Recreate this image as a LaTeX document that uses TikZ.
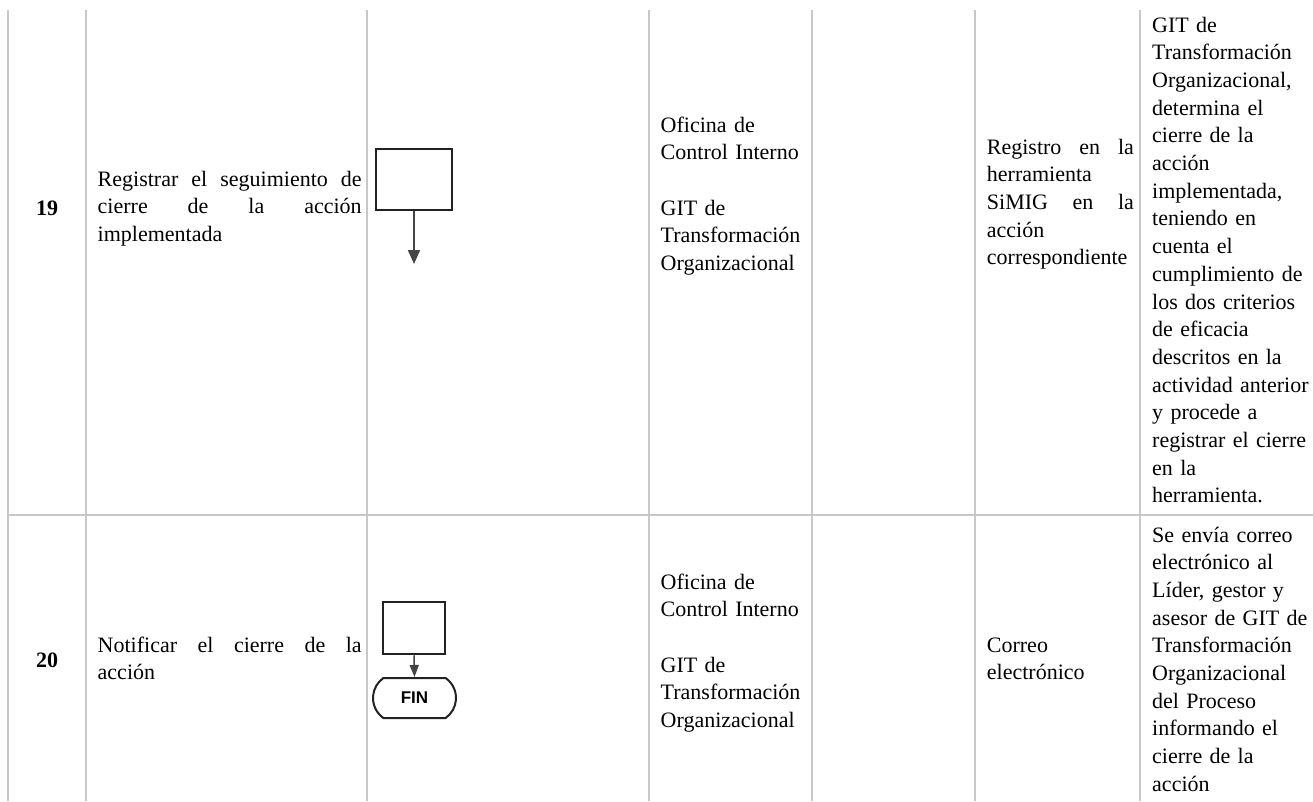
\documentclass[tikz,border=0pt]{standalone}
\usepackage{fontspec}
\setmainfont{Liberation Serif}
\newfontfamily\finfont{Liberation Sans}
\usetikzlibrary{arrows.meta,shapes.misc}
\definecolor{gridgray}{HTML}{C8C8C8}
\definecolor{boxline}{HTML}{222222}
\definecolor{arrowgray}{HTML}{444444}
\begin{document}
\begin{tikzpicture}[x=1pt,y=-1pt,
  grid/.style={draw=gridgray,line width=2pt},
  cell/.style={anchor=base west,inner sep=0pt,align=left,font=\fontsize{22}{27.67}\selectfont},
  num/.style={anchor=base,inner sep=0pt,font=\fontsize{22}{27.67}\selectfont\bfseries},
  procbox/.style={draw=boxline,line width=2.5pt,fill=white,inner sep=0pt},
  finbox/.style={draw=boxline,line width=2pt,rounded rectangle,rounded rectangle arc length=110,minimum width=83pt,minimum height=40pt,inner sep=0pt,font=\finfont\bfseries\fontsize{17}{20}\selectfont},
  flowbig/.style={draw=arrowgray,line width=1.8pt,-{Triangle[width=12pt,length=14pt]}},
  flowsmall/.style={draw=arrowgray,line width=1.5pt,-{Triangle[width=9pt,length=12pt]}}
]
\useasboundingbox (0,0) rectangle (1313,801);
\fill[white] (0,0) rectangle (1313,801);
% table rules
\foreach \x in {8,86,367,649,812,975,1140} \draw[grid] (\x,10) -- (\x,801);
\draw[grid] (7,515) -- (1313,515);

% row 19
\node[num] (n19) at (47,215) {19};
\node[cell,text width=264pt] (d19) at (97.5,186) {Registrar\hfill el\hfill seguimiento\hfill de\\ cierre\hfill de\hfill la\hfill acción\\ implementada};
\node[procbox,minimum width=76pt,minimum height=61pt] (b19) at (414,179.5) {};
\coordinate (e19) at (414,264);
\draw[flowbig] (b19.south) -- (e19);
\node[cell,text width=151pt] (r19) at (660.5,132) {Oficina de\\ Control Interno\\[27.67pt] GIT de\\ Transformación\\ Organizacional};
\node[cell,text width=147pt] (s19) at (986.7,154) {Registro\hfill en\hfill la\\ herramienta\\ SiMIG\hfill en\hfill la\\ acción\\ correspondiente};
\node[cell,text width=160pt] (o19) at (1152,32.3) {GIT de\\ Transformación\\ Organizacional,\\ determina el\\ cierre de la\\ acción\\ implementada,\\ teniendo en\\ cuenta el\\ cumplimiento de\\ los dos criterios\\ de eficacia\\ descritos en la\\ actividad anterior\\ y procede a\\ registrar el cierre\\ en la\\ herramienta.};

% row 20
\node[num] (n20) at (47,667) {20};
\node[cell,text width=264pt] (d20) at (97.5,652) {Notificar\hfill el\hfill cierre\hfill de\hfill la\\ acción};
\node[procbox,minimum width=62pt,minimum height=52pt] (b20) at (414,628) {};
\node[finbox] (fin) at (414.5,698) {FIN};
\draw[flowsmall] (b20.south) -- (fin.north);
\node[cell,text width=151pt] (r20) at (660.5,589) {Oficina de\\ Control Interno\\[27.67pt] GIT de\\ Transformación\\ Organizacional};
\node[cell,text width=147pt] (s20) at (986.7,652) {Correo\\ electrónico};
\node[cell,text width=160pt] (o20) at (1152,542) {Se envía correo\\ electrónico al\\ Líder, gestor y\\ asesor de GIT de\\ Transformación\\ Organizacional\\ del Proceso\\ informando el\\ cierre de la\\ acción};
\end{tikzpicture}
\end{document}
